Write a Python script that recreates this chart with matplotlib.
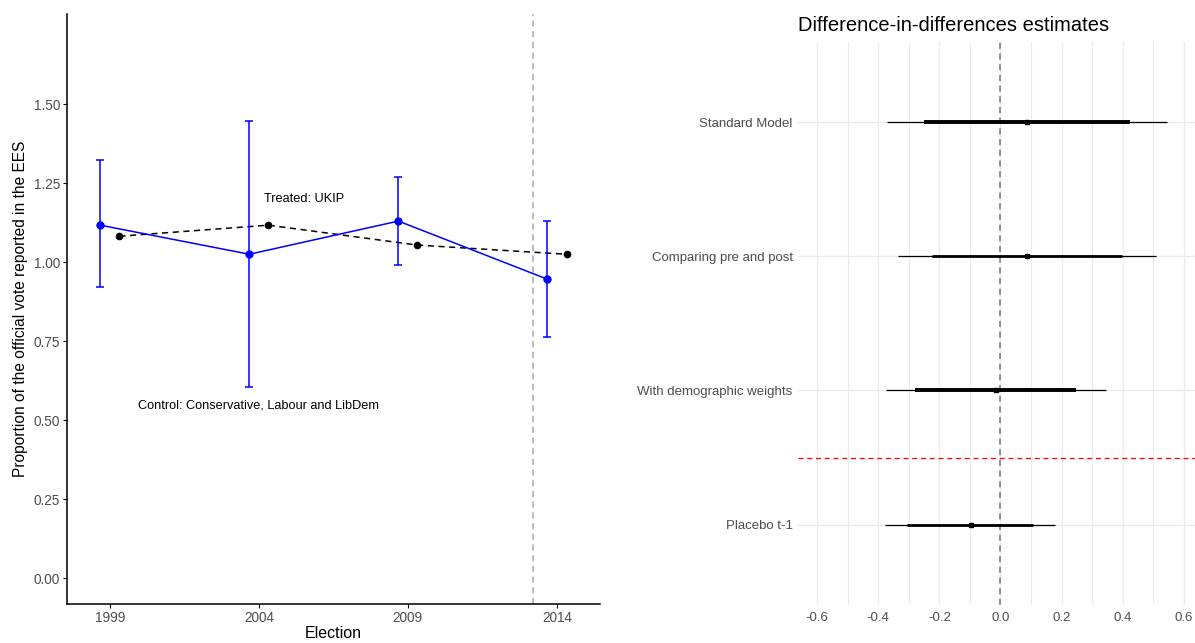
import matplotlib
matplotlib.use("Agg")
import matplotlib.pyplot as plt
import numpy as np

plt.rcParams["font.family"] = ["Liberation Sans", "DejaVu Sans"]
plt.rcParams["axes.unicode_minus"] = False

# left panel: vote share ratios by election
years = [1999, 2004, 2009, 2014]
treated_mean = [1.117, 1.025, 1.130, 0.946]
treated_lo = [0.921, 0.604, 0.990, 0.763]
treated_hi = [1.323, 1.446, 1.269, 1.130]
control_mean = [1.082, 1.117, 1.054, 1.025]
dodge = 0.32
treatment_year = 2013.2

# right panel: difference-in-differences estimates
models = ["Placebo t-1", "With demographic weights",
          "Comparing pre and post", "Standard Model"]
est = [-0.098, -0.014, 0.087, 0.087]
ci95_lo = [-0.377, -0.374, -0.335, -0.371]
ci95_hi = [0.177, 0.344, 0.508, 0.544]
ci90_lo = [-0.306, -0.281, -0.224, -0.251]
ci90_hi = [0.106, 0.249, 0.399, 0.424]
thick_w = [2.0, 2.8, 2.0, 2.8]

fig = plt.figure(figsize=(11.95, 6.43), dpi=100)

# ---- left panel ----
ax1 = fig.add_axes([0.056, 0.0607, 0.446, 0.9173])
tx = np.array(years) - dodge
cx = np.array(years) + dodge
tm = np.array(treated_mean)
yerr = [tm - np.array(treated_lo), np.array(treated_hi) - tm]
ax1.axvline(treatment_year, color="#aaaaaa", linestyle=(0, (4, 3)), linewidth=1.1, zorder=1)
ax1.plot(cx, control_mean, color="black", linestyle=(0, (4, 3)), linewidth=1.1,
         marker="o", markersize=4.5, zorder=2)
ax1.errorbar(tx, tm, yerr=yerr, color="#0000ff", linewidth=1.1, marker="o",
             markersize=5, capsize=3, capthick=1.1, elinewidth=1.1, zorder=3)
ax1.text(2005.5, 1.20, "Treated: UKIP", ha="center", va="center", fontsize=9.2)
ax1.text(2004.0, 0.547, "Control: Conservative, Labour and LibDem",
         ha="center", va="center", fontsize=9.2)

ax1.set_xlim(1997.56, 2015.44)
ax1.set_ylim(-0.082, 1.785)
ax1.set_xticks(years)
ax1.set_yticks([0, 0.25, 0.5, 0.75, 1.0, 1.25, 1.5])
ax1.set_yticklabels(["0.00", "0.25", "0.50", "0.75", "1.00", "1.25", "1.50"])
ax1.spines["top"].set_visible(False)
ax1.spines["right"].set_visible(False)
for s in ("left", "bottom"):
    ax1.spines[s].set_linewidth(1.1)
ax1.tick_params(axis="both", labelsize=9.8, labelcolor="#4d4d4d", length=3,
                width=0.8, pad=2)
ax1.set_xlabel("Election", fontsize=11.5, labelpad=1)
ax1.set_ylabel("Proportion of the official vote reported in the EES",
               fontsize=11.2, labelpad=4)

# ---- right panel ----
ax2 = fig.add_axes([0.668, 0.059, 0.332, 0.876])
ypos = np.arange(1, len(models) + 1)
ax2.set_xlim(-0.662, 0.637)
ax2.set_ylim(0.4, 4.6)
ax2.set_xticks([-0.6, -0.4, -0.2, 0.0, 0.2, 0.4, 0.6])
ax2.set_xticks(np.arange(-0.5, 0.6, 0.2), minor=True)
ax2.set_yticks(ypos)
ax2.set_yticklabels(models)
ax2.grid(True, which="major", color="#ebebeb", linewidth=1.0)
ax2.grid(True, which="minor", axis="x", color="#ebebeb", linewidth=0.8)
ax2.set_axisbelow(True)
for s in ax2.spines.values():
    s.set_visible(False)
ax2.tick_params(axis="both", which="both", length=0, labelsize=9.5,
                labelcolor="#4d4d4d")
ax2.tick_params(axis="x", pad=5)
ax2.tick_params(axis="y", pad=4)

ax2.axvline(0, color="#777777", linestyle=(0, (4, 3)), linewidth=1.1, zorder=2)
ax2.axhline(1.5, color="#ff0000", linestyle=(0, (4, 3)), linewidth=0.9, zorder=2)
ax2.hlines(ypos, ci95_lo, ci95_hi, color="black", linewidth=0.9, zorder=3)
for y, lo, hi, w in zip(ypos, ci90_lo, ci90_hi, thick_w):
    ax2.hlines(y, lo, hi, color="black", linewidth=w, zorder=4)
ax2.plot(est, ypos, "s", color="black", markersize=3, linestyle="none", zorder=5)
ax2.set_title("Difference-in-differences estimates", fontsize=14.5, loc="left",
              x=0.0, pad=8)

fig.savefig("out.png", dpi=100)
